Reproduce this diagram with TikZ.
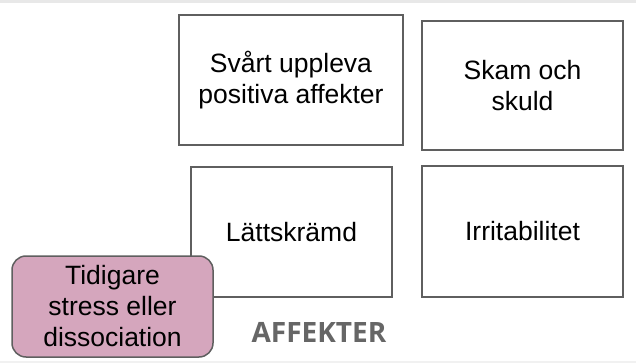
\documentclass[tikz,border=0pt]{standalone}
\usepackage{fontspec}
\setmainfont{Liberation Sans}
\newfontfamily\headfont{Open Sans}

\definecolor{boxline}{HTML}{5F5F5F}
\definecolor{pinkfill}{HTML}{D5A6BD}
\definecolor{headgray}{HTML}{666666}
\definecolor{bandgray}{HTML}{E8E8E8}

\newcommand*{\picw}{636}
\newcommand*{\pich}{363}

\begin{document}
\begin{tikzpicture}
[
	x=1pt, y=-1pt,
	affbox/.style={rectangle,draw=boxline,line width=1.5pt,fill=white,align=center,inner sep=0pt,font=\fontsize{26.5}{31}\selectfont},
	pinkbox/.style={affbox,fill=pinkfill,rounded corners=14pt},
	heading/.style={text=headgray,font=\headfont\bfseries\fontsize{28}{32}\selectfont}
]

	\useasboundingbox[fill=white] (0,0) rectangle (\picw,\pich);

	% bands at top and bottom
	\fill[bandgray] (0,0) rectangle (\picw,3);
	\fill[bandgray!60] (0,361) rectangle (\picw,\pich);

	% boxes
	\node[affbox,minimum width=224pt,minimum height=130pt] at (291,80) (svart) {Svårt uppleva\\positiva affekter};
	\node[affbox,minimum width=201pt,minimum height=129pt] at (522.5,85.5) (skam) {Skam och\\skuld};
	\node[affbox,minimum width=201pt,minimum height=130pt] at (291.5,232) (latt) {Lättskrämd};
	\node[affbox,minimum width=201pt,minimum height=131pt] at (522.5,231.5) (irrit) {Irritabilitet};

	% earlier stress, on top
	\node[pinkbox,minimum width=201pt,minimum height=101pt] at (112.5,306.5) (tidig) {Tidigare\\stress eller\\dissociation};

	\node[heading] at (319,332) (affekter) {AFFEKTER};

\end{tikzpicture}
\end{document}
